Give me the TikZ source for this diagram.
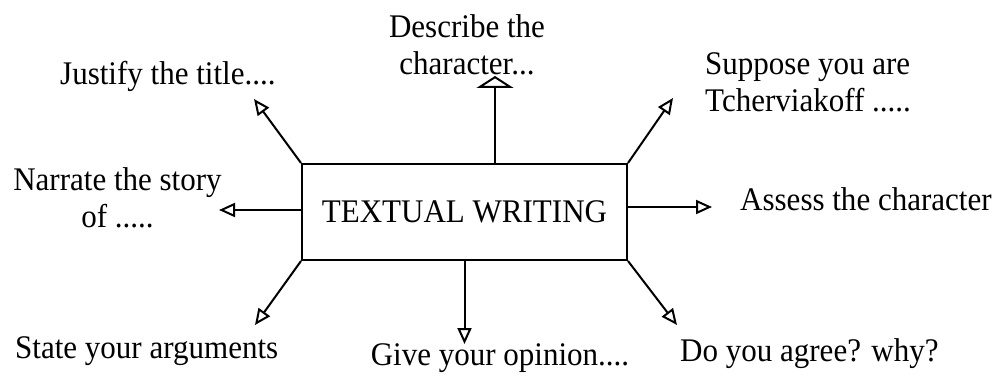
\documentclass[tikz,border=0pt]{standalone}
\usepackage{fontspec}
\setmainfont[FakeStretch=0.94]{Liberation Serif}
\usetikzlibrary{arrows.meta}
\begin{document}
\begin{tikzpicture}[x=1pt,y=-1pt,
  lbl/.style={inner sep=0pt,font=\fontsize{33}{37}\selectfont},
  arr/.style={line width=2pt,-{Triangle[open,length=16pt,width=14pt,line width=2pt]}},
  arrwide/.style={line width=2pt,-{Triangle[open,length=12pt,width=37pt,line width=2pt]}}]
\useasboundingbox (0,0) rectangle (1003,379);
\node[draw,line width=2pt,minimum width=325pt,minimum height=96pt,inner sep=0pt,
  font=\fontsize{33}{37}\selectfont] (box) at (464.5,212) {TEXTUAL WRITING};
\coordinate (tU) at (495,76);
\coordinate (tTR) at (673,98);
\coordinate (tR) at (712,207);
\coordinate (tBR) at (677,325);
\coordinate (tD) at (464.5,344);
\coordinate (tBL) at (255,325);
\coordinate (tL) at (219,210);
\coordinate (tTL) at (254,99);
\draw[arrwide] ([xshift=30.5pt]box.north) -- (tU);
\draw[arr] (box.north east) -- (tTR);
\draw[arr] ([yshift=5pt]box.east) -- (tR);
\draw[arr] (box.south east) -- (tBR);
\draw[arr] (box.south) -- (tD);
\draw[arr] (box.south west) -- (tBL);
\draw[arr] ([yshift=2pt]box.west) -- (tL);
\draw[arr] (box.north west) -- (tTL);
\node[lbl,align=center,anchor=north] (describe) at (467,14) {Describe the\\character...};
\node[lbl,anchor=base west] (justify) at (60,85) {Justify the title....};
\node[lbl,align=left,anchor=north west] (suppose) at (705,52) {Suppose you are\\Tcherviakoff .....};
\node[lbl,align=center,anchor=north] (narrate) at (117.5,167) {Narrate the story\\of .....};
\node[lbl,anchor=base west] (assess) at (740,211) {Assess the character};
\node[lbl,anchor=base west] (state) at (15,358) {State your arguments};
\node[lbl,anchor=base] (give) at (500,365) {Give your opinion....};
\node[lbl,anchor=base west] (agree) at (680,361) {Do you agree? why?};
\end{tikzpicture}
\end{document}
